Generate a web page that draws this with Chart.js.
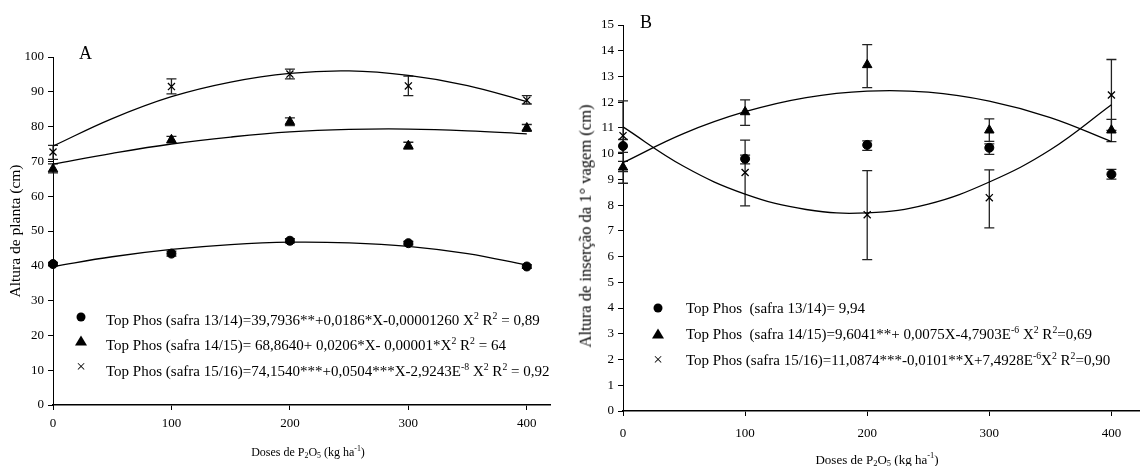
<!DOCTYPE html>
<html>
<head>
<meta charset="utf-8">
<script src="https://cdn.jsdelivr.net/npm/chart.js@4.4.0/dist/chart.umd.min.js"></script>
<style>
  body { margin: 0; background: #fff; width: 1146px; height: 466px; overflow: hidden; position: relative;
         font-family: 'Liberation Serif', 'Times New Roman', serif; color: #000; }
  .panel { position: absolute; top: 0; height: 466px; }
  .txt { position: absolute; white-space: nowrap; line-height: 1; }
  .leg { font-size: 15px; }
  sup { font-size: 65%; vertical-align: 0.6em; line-height: 0; }
  sub { font-size: 65%; vertical-align: -0.3em; line-height: 0; }
  .ytitle { transform: translate(-50%, -50%) rotate(-90deg); }
  .xtitle { transform: translate(-50%, -50%); }
  .mk { position: absolute; }
  .mk.circle { width: 9px; height: 9px; border-radius: 50%; background: #000; transform: translate(-50%, -50%); }
  .mk.tri { width: 0; height: 0; border-left: 6px solid transparent; border-right: 6px solid transparent;
            border-bottom: 10px solid #000; transform: translate(-50%, -55%); }
  .mk.cross { font-size: 17px; line-height: 1; transform: translate(-50%, -55%); }
</style>
</head>
<body>

<div class="panel" style="left:0;width:557px"><canvas id="chartA"></canvas></div>
<div class="panel" style="left:570px;width:576px"><canvas id="chartB"></canvas></div>

<!-- panel A texts -->
<div class="txt" style="left:79px;top:44px;font-size:18px">A</div>
<div class="txt ytitle" style="left:15px;top:231px;font-size:15.5px">Altura de planta (cm)</div>
<div class="txt xtitle" style="left:308px;top:452px;font-size:12px">Doses de P<sub>2</sub>O<sub>5</sub> (kg ha<sup>-1</sup>)</div>

<div class="mk circle" style="left:81px;top:317px"></div>
<div class="mk tri" style="left:81px;top:341px"></div>
<div class="mk cross" style="left:81px;top:367px">×</div>
<div class="txt leg" style="left:106px;top:313px">Top Phos (safra 13/14)=39,7936**+0,0186*X-0,00001260 X<sup>2</sup> R<sup>2</sup> = 0,89</div>
<div class="txt leg" style="left:106px;top:338px">Top Phos (safra 14/15)= 68,8640+ 0,0206*X- 0,00001*X<sup>2</sup> R<sup>2</sup> = 64</div>
<div class="txt leg" style="left:106px;top:364px">Top Phos (safra 15/16)=74,1540***+0,0504***X-2,9243E<sup>-8</sup> X<sup>2</sup> R<sup>2</sup> = 0,92</div>

<!-- panel B texts -->
<div class="txt" style="left:640px;top:13px;font-size:18px">B</div>
<div class="txt ytitle" style="left:586px;top:226px;font-size:16.5px">Altura de inserção da 1° vagem (cm)</div>
<div class="txt xtitle" style="left:877px;top:459px;font-size:13px">Doses de P<sub>2</sub>O<sub>5</sub> (kg ha<sup>-1</sup>)</div>

<div class="mk circle" style="left:658px;top:308px"></div>
<div class="mk tri" style="left:658px;top:334px"></div>
<div class="mk cross" style="left:658px;top:360px">×</div>
<div class="txt leg" style="left:686px;top:301px">Top Phos&nbsp; (safra 13/14)= 9,94</div>
<div class="txt leg" style="left:686px;top:327px">Top Phos&nbsp; (safra 14/15)=9,6041**+ 0,0075X-4,7903E<sup>-6</sup> X<sup>2</sup> R<sup>2</sup>=0,69</div>
<div class="txt leg" style="left:686px;top:353px">Top Phos (safra 15/16)=11,0874***-0,0101**X+7,4928E<sup>-6</sup>X<sup>2</sup> R<sup>2</sup>=0,90</div>

<script>
// doses of P2O5 (kg/ha) where the means were measured
const doses = [0, 100, 200, 300, 400];
const fitDoses = [0, 50, 100, 150, 200, 250, 300, 350, 400];
// x tick labels (both panels)
const xTicks = [0, 100, 200, 300, 400];

// A - plant height (cm)
const alt1314 = [40.5, 43.5, 47.2, 46.5, 39.8];
const alt1314Low = [40.0, 42.8, 46.6, 46.0, 39.3];
const alt1314High = [41.0, 44.2, 47.8, 47.0, 40.3];
const alt1415 = [67.8, 76.2, 81.4, 74.5, 79.6];
const alt1415Low = [66.7, 75.3, 80.3, 73.5, 78.6];
const alt1415High = [69.3, 77.2, 82.5, 75.5, 80.6];
const alt1516 = [72.7, 91.5, 95.1, 91.7, 87.6];
const alt1516Low = [70.6, 89.4, 93.7, 88.9, 86.5];
const alt1516High = [74.6, 93.7, 96.5, 94.5, 88.9];

const altFit1314 = [39.8, 42.6, 44.7, 46.1, 46.8, 46.6, 45.6, 43.5, 40.2];
const altFit1415 = [69.2, 72.3, 75.0, 77.0, 78.5, 79.2, 79.3, 78.8, 77.9];
const altFit1516 = [74.4, 82.3, 88.6, 92.8, 95.3, 96.0, 94.7, 91.8, 87.2];

// B - height of first pod insertion (cm)
const ins1314 = [10.30, 9.80, 10.34, 10.23, 9.20];
const ins1314Low = [10.05, 9.60, 10.13, 9.97, 9.01];
const ins1314High = [10.55, 9.94, 10.50, 10.38, 9.39];
const ins1415 = [9.47, 11.62, 13.45, 10.91, 10.91];
const ins1415Low = [9.30, 11.10, 12.57, 10.48, 10.47];
const ins1415High = [9.70, 12.09, 14.24, 11.35, 11.33];
const ins1516 = [10.70, 9.27, 7.63, 8.29, 12.28];
const ins1516Low = [8.85, 7.97, 5.88, 7.12, 10.90];
const ins1516High = [12.05, 10.53, 9.34, 9.37, 13.66];

const insFit1415 = [9.65, 10.79, 11.63, 12.18, 12.43, 12.39, 12.04, 11.40, 10.47];
const insFit1516 = [11.04, 9.50, 8.43, 7.83, 7.70, 8.04, 8.90, 10.15, 11.90];

const FONT = "'Liberation Serif', 'Times New Roman', serif";

const errorBars = {
    id: 'errorBars',
    beforeDatasetsDraw(chart) {
        const { ctx, scales: { x, y } } = chart;
        ctx.save();
        ctx.lineWidth = 1.3;
        chart.data.datasets.forEach(ds => {
            if (!ds.errLow) return;
            ctx.strokeStyle = ds.errColor || '#222';
            ds.data.forEach((p, i) => {
                const px = x.getPixelForValue(p.x);
                const top = y.getPixelForValue(ds.errHigh[i]);
                const bot = y.getPixelForValue(ds.errLow[i]);
                ctx.beginPath();
                ctx.moveTo(px, top); ctx.lineTo(px, bot);
                ctx.moveTo(px - 5, top); ctx.lineTo(px + 5, top);
                ctx.moveTo(px - 5, bot); ctx.lineTo(px + 5, bot);
                ctx.stroke();
            });
        });
        ctx.restore();
    }
};

function pts(xs, ys) {
    return xs.map((d, i) => ({ x: d, y: ys[i] }));
}

function meanSet(values, low, high, style, radius) {
    return {
        data: pts(doses, values),
        errLow: low,
        errHigh: high,
        showLine: false,
        pointStyle: style,
        pointRadius: radius,
        pointBackgroundColor: '#000',
        pointBorderColor: '#000',
        pointBorderWidth: style === 'crossRot' ? 1.3 : 1,
        clip: false
    };
}

function fitSet(values) {
    return {
        data: pts(fitDoses, values),
        showLine: true,
        borderColor: '#000',
        borderWidth: 1.3,
        tension: 0.4,
        pointRadius: 0,
        clip: false
    };
}

function makeChart(id, datasets, c) {
    return new Chart(document.getElementById(id), {
        type: 'scatter',
        data: { datasets },
        options: {
            responsive: false,
            animation: false,
            layout: { padding: { top: c.padTop, right: c.padRight, left: 0, bottom: 0 } },
            plugins: { legend: { display: false }, tooltip: { enabled: false } },
            scales: {
                x: {
                    type: 'linear', min: 0, max: c.xMax,
                    afterFit: s => { s.height = c.xHeight; },
                    afterBuildTicks: s => { s.ticks = xTicks.map(v => ({ value: v })); },
                    ticks: { color: '#000', padding: c.xPad, font: { family: FONT, size: 13 } },
                    grid: { drawOnChartArea: false, tickLength: 5, color: '#000' },
                    border: { display: true, color: '#000', width: 1.6 }
                },
                y: {
                    min: 0, max: c.yMax,
                    afterFit: s => { s.width = c.yWidth; },
                    ticks: { stepSize: c.yStep, color: '#000', padding: 4, font: { family: FONT, size: 13 } },
                    grid: { drawOnChartArea: false, tickLength: 5, color: '#000' },
                    border: { display: true, color: '#000', width: 1 }
                }
            }
        },
        plugins: [errorBars]
    });
}

const canvasA = document.getElementById('chartA');
canvasA.width = 557; canvasA.height = 466;
const canvasB = document.getElementById('chartB');
canvasB.width = 576; canvasB.height = 466;

makeChart('chartA', [
    fitSet(altFit1314),
    fitSet(altFit1415),
    fitSet(altFit1516),
    meanSet(alt1314, alt1314Low, alt1314High, 'circle', 4.5),
    meanSet(alt1415, alt1415Low, alt1415High, 'triangle', 5.5),
    meanSet(alt1516, alt1516Low, alt1516High, 'crossRot', 5)
], { xMax: 420, yMax: 100, yStep: 5, padTop: 57, padRight: 0, xHeight: 61, yWidth: 53, xPad: 6 });

makeChart('chartB', [
    fitSet(insFit1415),
    fitSet(insFit1516),
    meanSet(ins1314, ins1314Low, ins1314High, 'circle', 4.5),
    meanSet(ins1415, ins1415Low, ins1415High, 'triangle', 5.5),
    meanSet(ins1516, ins1516Low, ins1516High, 'crossRot', 5)
], { xMax: 423, yMax: 15, yStep: 1, padTop: 25, padRight: 0, xHeight: 55, yWidth: 53, xPad: 10 });
</script>
</body>
</html>
